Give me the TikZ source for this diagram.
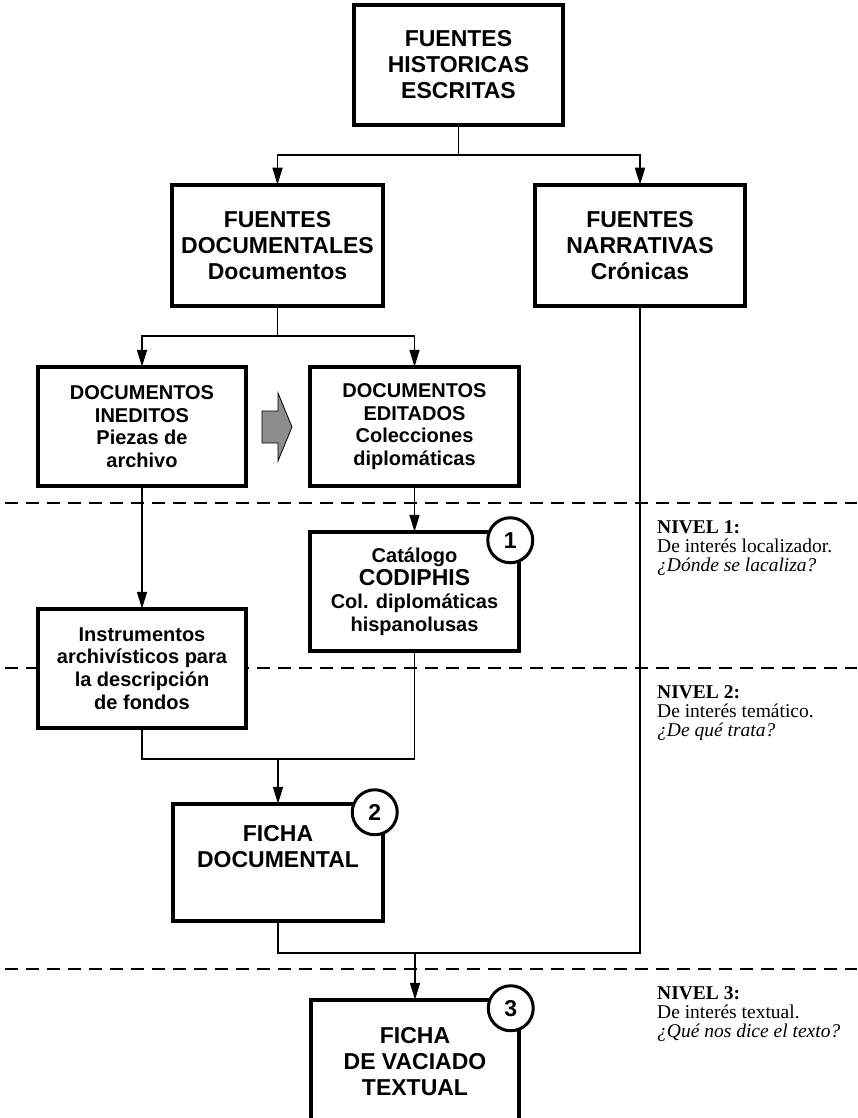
\documentclass[tikz,border=0pt]{standalone}
\usepackage{fontspec}
\newfontfamily\hvfont{Liberation Sans}
\newfontfamily\tmfont{Liberation Serif}
\usetikzlibrary{arrows.meta,calc}

\begin{document}
\begin{tikzpicture}[x=1pt,y=-1pt,
  box/.style={draw, line width=3.6pt, fill=white, inner sep=0pt, outer sep=0pt, align=center},
  big/.style={font=\hvfont\bfseries\fontsize{23}{26}\selectfont},
  med/.style={font=\hvfont\bfseries\fontsize{20}{22.7}\selectfont},
  conn/.style={line width=1.6pt},
  arr/.style={conn, -{Triangle[length=17pt,width=10pt]}},
  level/.style={dash pattern=on 13pt off 8pt, line width=2pt},
  num/.style={circle, draw, line width=3pt, fill=white, minimum size=45pt, inner sep=0pt,
              font=\hvfont\bfseries\fontsize{23}{23}\selectfont},
  note/.style={anchor=base west, inner sep=0pt, font=\tmfont\fontsize{19.5}{19.5}\selectfont},
  notehead/.style={note, font=\tmfont\bfseries\fontsize{19.5}{19.5}\selectfont},
  noteq/.style={note, font=\tmfont\itshape\fontsize{19.5}{19.5}\selectfont}]

\useasboundingbox (0,0) rectangle (857,1118);
\clip (0,0) rectangle (857,1118);

% level separators
\draw[level] (5,503) -- (857,503);
\draw[level] (5,668) -- (857,668);
\draw[level] (5,969) -- (857,969);

% boxes
\node[box, big, minimum width=209.5pt, minimum height=120.5pt] (top) at (458.5,65)
  {FUENTES\\HISTORICAS\\ESCRITAS};
\node[box, big, minimum width=211.5pt, minimum height=121.5pt] (doc) at (277.5,245.5)
  {FUENTES\\DOCUMENTALES\\Documentos};
\node[box, big, minimum width=210.5pt, minimum height=121.5pt] (narr) at (640,245.5)
  {FUENTES\\NARRATIVAS\\Crónicas};
\node[box, med, minimum width=208.5pt, minimum height=119.5pt] (ined) at (142,426.5)
  {DOCUMENTOS\\INEDITOS\\Piezas de\\archivo};
\node[box, med, minimum width=208.5pt, minimum height=119.5pt] (edit) at (414.5,426.5)
  {DOCUMENTOS\\EDITADOS\\Colecciones\\diplomáticas};
\node[box, med, minimum width=208.5pt, minimum height=119.5pt] (cat) at (414.5,591.5)
  {Catálogo\\[1pt]{\fontsize{23}{24}\selectfont CODIPHIS}\\Col. diplomáticas\\hispanolusas};
\node[box, med, minimum width=208.5pt, minimum height=119.5pt] (instr) at (142,668.5)
  {Instrumentos\\archivísticos para\\la descripción\\de fondos};
\node[box, big, minimum width=210.5pt, minimum height=117.5pt] (fdoc) at (278,862.5)
  {FICHA\\DOCUMENTAL\\[6pt]};
\node[box, big, minimum width=208.5pt, minimum height=124.5pt] (final) at (415,1062)
  {FICHA\\DE VACIADO\\TEXTUAL};

% numbered badges
\node[num] (n1) at ($(cat.north east)+(-8.5,8.5)$) {1};
\node[num] (n2) at ($(fdoc.north east)+(-8.5,8.5)$) {2};
\node[num] (n3) at ($(final.north east)+(-8.5,8.5)$) {3};

% edition arrow
\draw[line width=0.8pt, fill=black!45] (262,411) -- (278,411) -- (278,393) -- (292,427)
  -- (278,461) -- (278,443) -- (262,443) -- cycle;

% connectors
\coordinate (s1) at (458.5,155);
\draw[conn] (top.south) -- (s1);
\draw[arr] (s1) -| (doc.north);
\draw[arr] (s1) -| (narr.north);

\coordinate (s2) at (277.5,336);
\draw[conn] (doc.south) -- (s2);
\draw[arr] (s2) -| (ined.north);
\draw[arr] (s2) -| (edit.north);

\draw[arr] (ined.south) -- (instr.north);
\draw[arr] (edit.south) -- (cat.north);

\coordinate (j2) at (278,759);
\draw[conn] (instr.south) |- (cat.south |- j2) -- (cat.south);
\draw[arr] (j2) -- (fdoc.north);

\coordinate (j3) at (415,953);
\draw[conn] (fdoc.south) |- (narr.south |- j3) -- (narr.south);
\draw[arr] (j3) -- (final.north);

% level notes
\node[notehead] (l1a) at (657,533) {NIVEL 1:};
\node[note] (l1b) at (657,552) {De interés localizador.};
\node[noteq] (l1c) at (657,571) {¿Dónde se lacaliza?};
\node[notehead] (l2a) at (657,698) {NIVEL 2:};
\node[note] (l2b) at (657,717) {De interés temático.};
\node[noteq] (l2c) at (657,736) {¿De qué trata?};
\node[notehead] (l3a) at (657,999) {NIVEL 3:};
\node[note] (l3b) at (657,1018) {De interés textual.};
\node[noteq] (l3c) at (657,1037) {¿Qué nos dice el texto?};
\end{tikzpicture}
\end{document}
